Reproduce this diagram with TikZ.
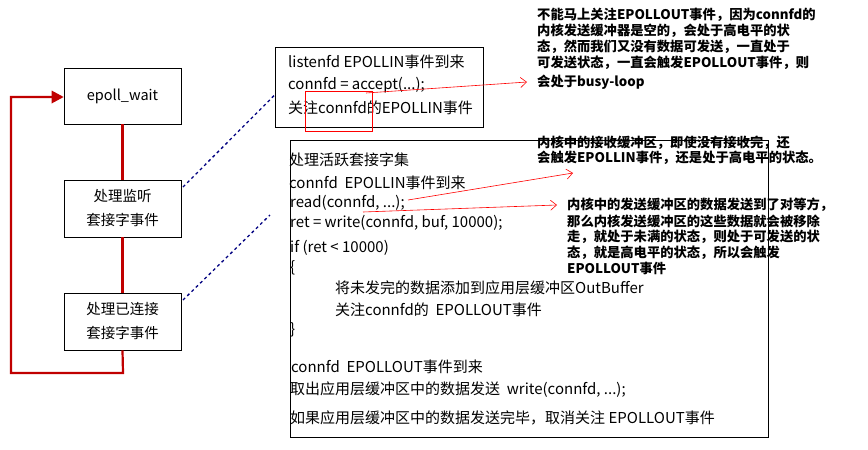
\documentclass[tikz,border=0pt]{standalone}
\usepackage{fontspec}
\setmainfont{Noto Sans CJK SC}
\usetikzlibrary{arrows.meta}
\definecolor{loopred}{RGB}{192,0,0}
\definecolor{navy}{RGB}{0,0,128}
\tikzset{
  box/.style={draw,line width=0.8pt,align=center,font=\fontsize{14.5}{24}\selectfont},
  txt/.style={anchor=west,inner sep=0,font=\fontsize{15}{16}\selectfont},
  note/.style={anchor=west,inner sep=0,font=\fontsize{13.3}{15}\selectfont\bfseries},
  loopline/.style={draw=loopred,line width=2.2pt},
  dashline/.style={draw=navy,dashed,line width=1.3pt},
  redarr/.style={draw=red,-{Straight Barb[length=6pt,width=10pt]},line width=0.6pt}
}
\begin{document}
\begin{tikzpicture}[x=1pt,y=-1pt]
\useasboundingbox (0,0) rectangle (868,450);
\node[box,minimum width=117,minimum height=56] (ew) at (122.5,96) {epoll\_wait};
\node[box,minimum width=117,minimum height=57] (ls) at (122.5,208.5) {处理监听\\套接字事件};
\node[box,minimum width=117,minimum height=57] (cs) at (122.5,321.5) {处理已连接\\套接字事件};
\draw[loopline] (ew.south) -- (ls.north);
\draw[loopline] (ls.south) -- (cs.north);
\coordinate (c1) at (123,373);
\coordinate (c2) at (11,373);
\coordinate (c3) at (11,97);
\draw[loopline] (cs.south) -- (c1) -- (c2) -- (c3) -- ([xshift=-10pt]c3 -| ew.west);
\fill[loopred] (ew.west |- c3) -- ++(-12,-6.5) -- ++(0,13) -- cycle;
% box 1
\node[draw,line width=0.7pt,minimum width=208,minimum height=80,inner sep=0] (b1) at (379,87) {};
\node[txt] (t11) at (288,62) {listenfd EPOLLIN事件到来};
\node[txt] (t12) at (288,85) {connfd = accept(...);};
\node[txt] (t13) at (288,108) {关注connfd的EPOLLIN事件};
\node[draw=red,line width=0.6pt,minimum width=67,minimum height=40,inner sep=0] (rr) at (338.5,111) {};
% box 2
\node[draw,line width=0.7pt,minimum width=478,minimum height=297,inner sep=0] (b2) at (529,288.5) {};
\node[txt] (u1) at (289,160) {处理活跃套接字集};
\node[txt] (u2) at (289,183) {connfd\ \ EPOLLIN事件到来};
\node[txt] (u3) at (290,203) {read(connfd, ...);};
\node[txt] (u4) at (290,223) {ret = write(connfd, buf, 10000);};
\node[txt] (u5) at (290,248) {if (ret < 10000)};
\node[txt] (u6) at (290,268) {\{};
\node[txt] (u7) at (335,288) {将未发完的数据添加到应用层缓冲区OutBuffer};
\node[txt] (u8) at (335,310) {关注connfd的\ \ EPOLLOUT事件};
\node[txt] (u9) at (290,330) {\}};
\node[txt] (u10) at (291,367) {connfd\ \ EPOLLOUT事件到来};
\node[txt] (u11) at (290,390) {取出应用层缓冲区中的数据发送\ \ write(connfd, ...);};
\node[txt] (u12) at (290,418) {如果应用层缓冲区中的数据发送完毕，取消关注 EPOLLOUT事件};
% dashed connectors
\coordinate (d1) at (183,187);
\coordinate (d2) at (183,300);
\draw[dashline] (d1) -- (b1.west |- 0,95);
\draw[dashline] (d2) -- (270,215);
% notes
\node[note] (n1a) at (537,15) {不能马上关注EPOLLOUT事件，因为connfd的};
\node[note] (n1b) at (537,31) {内核发送缓冲器是空的，会处于高电平的状};
\node[note] (n1c) at (537,47) {态，然而我们又没有数据可发送，一直处于};
\node[note] (n1d) at (537,63) {可发送状态，一直会触发EPOLLOUT事件，则};
\node[note] (n1e) at (537,82) {会处于busy-loop};
\node[note] (n2a) at (537,143) {内核中的接收缓冲区，即使没有接收完，还};
\node[note] (n2b) at (537,158) {会触发EPOLLIN事件，还是处于高电平的状态。};
\node[note] (n3a) at (567,205) {内核中的发送缓冲区的数据发送到了对等方，};
\node[note] (n3b) at (567,221) {那么内核发送缓冲区的这些数据就会被移除};
\node[note] (n3c) at (567,237) {走，就处于未满的状态，则处于可发送的状};
\node[note] (n3d) at (567,253) {态，就是高电平的状态，所以会触发};
\node[note] (n3e) at (567,268) {EPOLLOUT事件};
% red arrows
\coordinate (a1) at (366,93);
\coordinate (a2) at (408,200);
\coordinate (a3) at (363,212);
\draw[redarr] (a1) -- ([xshift=-10pt]n1e.west);
\draw[redarr] (a2) -- (573,173);
\draw[redarr] (a3) -- ([xshift=-10pt]n3a.west);
\end{tikzpicture}
\end{document}
